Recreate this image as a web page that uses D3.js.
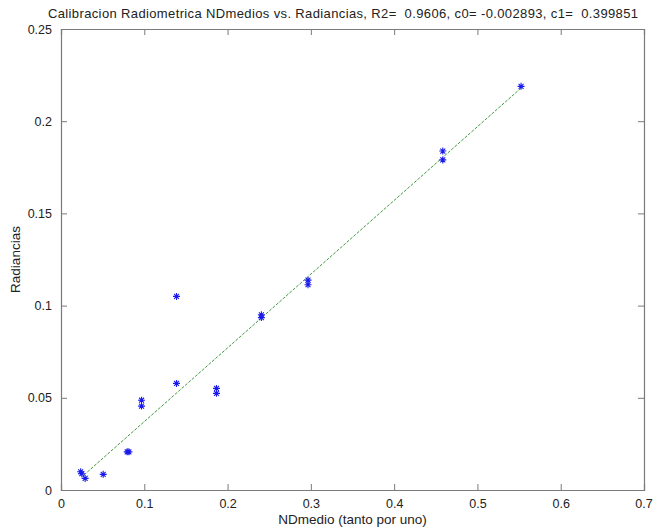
<!DOCTYPE html>
<html>
<head>
<meta charset="utf-8">
<script src="https://cdn.jsdelivr.net/npm/d3@7"></script>
<style>
  html, body { margin: 0; padding: 0; background: #fff; }
  svg { display: block; font-family: "Liberation Sans", Arial, sans-serif; }
  text { white-space: pre; }
</style>
</head>
<body>
<svg id="chart" width="653" height="530"></svg>
<script>
// Measured digital level (per unit) and radiance for each calibration sample
const ndMedio = [0.0236, 0.0250, 0.0290, 0.0507, 0.0795, 0.0815, 0.0967, 0.0967, 0.1387, 0.1387,
                 0.1867, 0.1867, 0.2406, 0.2406, 0.2966, 0.2966, 0.4584, 0.4584, 0.5524];
const radiancia = [0.0099, 0.0088, 0.0063, 0.0085, 0.0207, 0.0207, 0.0487, 0.0455, 0.0578, 0.1050,
                   0.0551, 0.0524, 0.0950, 0.0935, 0.1138, 0.1113, 0.1838, 0.1790, 0.2189];

// Linear fit coefficients: radiancia = c0 + c1 * ndMedio
const c0 = -0.002893;
const c1 = 0.399851;
const r2 = 0.9606;

const xTicks = [0, 0.1, 0.2, 0.3, 0.4, 0.5, 0.6, 0.7];
const yTicks = [0, 0.05, 0.1, 0.15, 0.2, 0.25];

const svg = d3.select("#chart");
const mLeft = 61, mRight = 644, mTop = 29, mBottom = 490;

const x = d3.scaleLinear().domain([0, 0.7]).range([mLeft, mRight]);
const y = d3.scaleLinear().domain([0, 0.25]).range([mBottom, mTop]);

const axisColor = "#7a7a7a";
const textColor = "#222";
const tickLen = 6;

// Axes with ticks pointing inward on all four sides (box on)
const gx = svg.append("g").attr("transform", `translate(0,${mBottom})`)
  .call(d3.axisBottom(x).tickValues(xTicks).tickSize(-tickLen).tickPadding(9)
        .tickFormat(d => d3.format("~g")(d)));
const gxTop = svg.append("g").attr("transform", `translate(0,${mTop})`)
  .call(d3.axisTop(x).tickValues(xTicks).tickSize(-tickLen).tickFormat(""));
const gy = svg.append("g").attr("transform", `translate(${mLeft},0)`)
  .call(d3.axisLeft(y).tickValues(yTicks).tickSize(-tickLen).tickPadding(9)
        .tickFormat(d => d3.format("~g")(d)));
const gyRight = svg.append("g").attr("transform", `translate(${mRight},0)`)
  .call(d3.axisRight(y).tickValues(yTicks).tickSize(-tickLen).tickFormat(""));

[gx, gxTop, gy, gyRight].forEach(g => {
  g.select(".domain").attr("stroke", axisColor).attr("stroke-width", 1.2);
  g.selectAll(".tick line").attr("stroke", axisColor);
  g.selectAll(".tick text").attr("fill", textColor).attr("font-size", 12.5)
    .attr("font-family", "Liberation Sans, Arial, sans-serif");
});
gx.selectAll(".tick text").filter(d => d === 0.7).attr("dx", -0.5);

// Fitted regression line across the sampled range
const xMin = d3.min(ndMedio) + 0.004, xMax = d3.max(ndMedio);
svg.append("line")
  .attr("x1", x(xMin)).attr("y1", y(c0 + c1 * xMin))
  .attr("x2", x(xMax)).attr("y2", y(c0 + c1 * xMax))
  .attr("stroke", "#3f9a3f").attr("stroke-width", 1)
  .attr("stroke-dasharray", "3,1.5");

// Asterisk markers for the samples
const s = 3.5;
const star = `M${-s},0H${s}M0,${-s}V${s}M${-s*0.7},${-s*0.7}L${s*0.7},${s*0.7}M${-s*0.7},${s*0.7}L${s*0.7},${-s*0.7}`;
svg.append("g").selectAll("path").data(ndMedio.map((d, i) => [d, radiancia[i]]))
  .join("path")
  .attr("transform", d => `translate(${x(d[0])},${y(d[1])})`)
  .attr("d", star)
  .attr("fill", "none").attr("stroke", "#1a1aee").attr("stroke-width", 1.1);

// Title and axis labels
svg.append("text").attr("x", 48).attr("y", 18)
  .attr("font-size", 13).attr("fill", textColor)
  .attr("textLength", 590).attr("lengthAdjust", "spacing")
  .text(`Calibracion Radiometrica NDmedios vs. Radiancias, R2=  ${r2.toFixed(4)}, c0= ${c0.toFixed(6)}, c1=  ${c1.toFixed(6)}`);
svg.append("text").attr("x", (mLeft + mRight) / 2).attr("y", 524)
  .attr("text-anchor", "middle").attr("font-size", 13.5).attr("fill", textColor)
  .text("NDmedio (tanto por uno)");
svg.append("text").attr("transform", `translate(20,${(mTop + mBottom) / 2}) rotate(-90)`)
  .attr("text-anchor", "middle").attr("font-size", 13.5).attr("fill", textColor)
  .text("Radiancias");
</script>
</body>
</html>
